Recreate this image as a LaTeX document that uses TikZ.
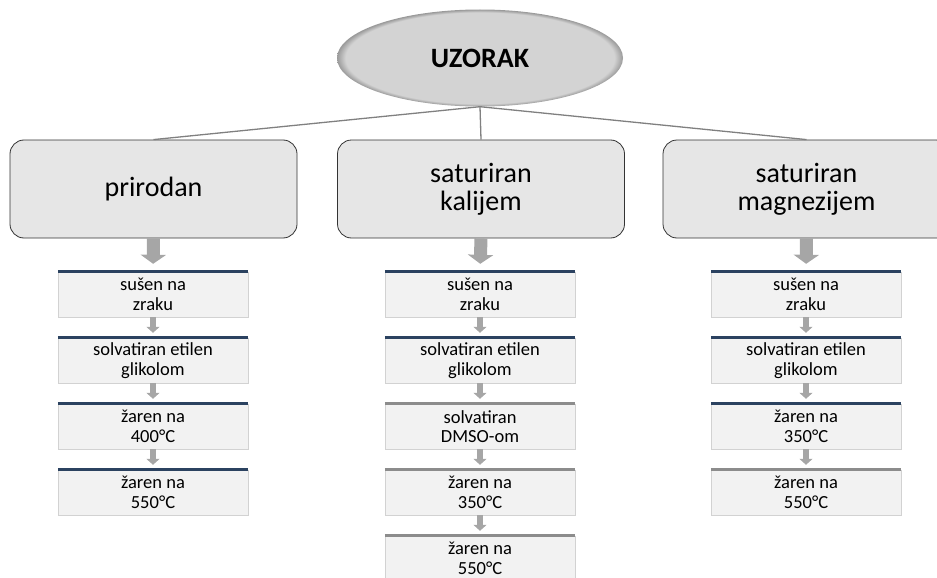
\documentclass[tikz,border=0pt]{standalone}
\usepackage{fontspec}
\setmainfont{Carlito}
\usetikzlibrary{arrows.meta,positioning,shapes.geometric}
\definecolor{rootfill}{HTML}{D3D3D3}
\definecolor{rootedge}{HTML}{9A9A9A}
\definecolor{boxfill}{HTML}{E6E6E6}
\definecolor{stepfill}{HTML}{F2F2F2}
\definecolor{topnavy}{HTML}{2B4260}
\definecolor{topgray}{HTML}{8C8C8C}
\definecolor{arrowgray}{HTML}{A6A6A6}
\pgfdeclareradialshading{rootshade}{\pgfpoint{0bp}{0bp}}{color(0bp)=(rootfill); color(23.5bp)=(rootfill); color(25bp)=(rootedge); color(50bp)=(rootedge)}
\tikzset{
  root/.style={ellipse, minimum width=286pt, minimum height=97pt, shading=rootshade,
    font=\fontsize{28}{30}\selectfont\bfseries},
  group/.style={draw=black!80, line width=0.8pt, fill=boxfill, rounded corners=14pt,
    minimum width=287pt, minimum height=98pt, align=center, font=\fontsize{28}{28}\selectfont},
  stepbox/.style={draw=gray!35, fill=stepfill, minimum width=190pt, minimum height=45pt,
    inner sep=0pt, align=center, font=\fontsize{18.5}{19.5}\selectfont},
  link/.style={draw=gray, line width=1.3pt},
  bigarrow/.style={arrowgray, line width=13pt, shorten >=8pt, -{Triangle[width=25pt,length=9pt]}},
  smallarrow/.style={arrowgray, line width=6pt, shorten >=5pt, -{Triangle[width=13pt,length=6pt]}},
}
\begin{document}
\begin{tikzpicture}[x=1pt,y=-1pt]
  \clip (0,0) rectangle (937,578);
  \node[root] (root) at (480,58) {UZORAK};

  \node[group] (prirodan) at (153.5,189) {prirodan};
  \node[group] (kalij)    at (481,189)   {saturiran\\kalijem};
  \node[group] (magnezij) at (806.5,189) {saturiran\\magnezijem};

  \draw[link] (root.south) -- (prirodan.north);
  \draw[link] (root.south) -- (kalij.north);
  \draw[link] (root.south) -- (magnezij.north);

  % koraci: prirodan
  \def\nnavy{4}
  \foreach \t [count=\i] in {{sušen na\\zraku},{solvatiran etilen\\glikolom},{žaren na\\400°C},{žaren na\\550°C}} {
    \ifnum\i>\nnavy \def\tc{topgray}\else\def\tc{topnavy}\fi
    \node[stepbox] (p\i) at (153,{294.5+66*(\i-1)}) {\t};
    \draw[\tc, line width=3pt] (p\i.north west) -- (p\i.north east);
  }
  % koraci: kalij
  \def\nnavy{2}
  \foreach \t [count=\i] in {{sušen na\\zraku},{solvatiran etilen\\glikolom},{solvatiran\\DMSO-om},{žaren na\\350°C},{žaren na\\550°C}} {
    \ifnum\i>\nnavy \def\tc{topgray}\else\def\tc{topnavy}\fi
    \node[stepbox] (k\i) at (480,{294.5+66*(\i-1)}) {\t};
    \draw[\tc, line width=3pt] (k\i.north west) -- (k\i.north east);
  }
  % koraci: magnezij
  \def\nnavy{3}
  \foreach \t [count=\i] in {{sušen na\\zraku},{solvatiran etilen\\glikolom},{žaren na\\350°C},{žaren na\\550°C}} {
    \ifnum\i>\nnavy \def\tc{topgray}\else\def\tc{topnavy}\fi
    \node[stepbox] (m\i) at (806,{294.5+66*(\i-1)}) {\t};
    \draw[\tc, line width=3pt] (m\i.north west) -- (m\i.north east);
  }

  \draw[bigarrow] (prirodan.south) -- (p1.north);
  \draw[bigarrow] (kalij.south) -- (k1.north);
  \draw[bigarrow] (magnezij.south) -- (m1.north);
  \foreach \i [evaluate=\i as \j using int(\i+1)] in {1,2,3} {
    \draw[smallarrow] (p\i.south) -- (p\j.north);
    \draw[smallarrow] (m\i.south) -- (m\j.north);
  }
  \foreach \i [evaluate=\i as \j using int(\i+1)] in {1,...,4}
    \draw[smallarrow] (k\i.south) -- (k\j.north);
\end{tikzpicture}
\end{document}
